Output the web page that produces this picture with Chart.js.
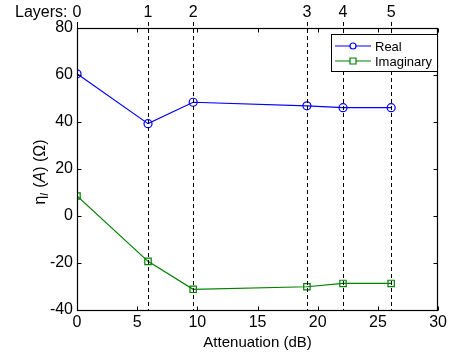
<!DOCTYPE html>
<html><head><meta charset="utf-8">
<script src="https://cdn.jsdelivr.net/npm/chart.js@4"></script>
<style>html,body{margin:0;padding:0;background:#fff}#wrap{width:450px;height:357px}</style>
</head><body><div id="wrap"><canvas id="c" width="450" height="357"></canvas></div>
<script>
const attenuation = [0, 5.9, 9.65, 19.1, 22.1, 26.1];
const layerLabels = ['0', '1', '2', '3', '4', '5'];
const realValues = [60.5, 39.3, 48.4, 46.9, 46.1, 46.1];
const imagValues = [8.5, -19.3, -31.2, -30.1, -28.7, -28.7];
const xTicks = [0, 5, 10, 15, 20, 25, 30];
const yTicks = [-40, -20, 0, 20, 40, 60, 80];

const FONT = 'Liberation Sans, Arial, Helvetica, sans-serif';
const BLUE = '#0000ff', GREEN = '#008000';

const frame = {
  id: 'frame',
  afterDraw(chart) {
    const ctx = chart.ctx, a = chart.chartArea;
    const x = chart.scales.x, y = chart.scales.y;
    ctx.save();
    ctx.strokeStyle = '#000'; ctx.lineWidth = 1;
    ctx.setLineDash([4, 3]);
    attenuation.forEach((v, i) => {
      if (i === 0) return;
      const px = Math.round(x.getPixelForValue(v)) + 0.5;
      ctx.beginPath(); ctx.moveTo(px, a.top - 6); ctx.lineTo(px, a.bottom); ctx.stroke();
    });
    ctx.setLineDash([]);
    const p0 = Math.round(x.getPixelForValue(attenuation[0])) + 0.5;
    ctx.beginPath(); ctx.moveTo(p0, a.top - 6); ctx.lineTo(p0, a.top); ctx.stroke();
    const L = Math.round(a.left) + 0.5, R = Math.round(a.right) - 0.5, T = Math.round(a.top) + 0.5, B = Math.round(a.bottom) + 0.5;
    ctx.lineWidth = 1.2;
    ctx.strokeRect(L, T, R - L, B - T);
    ctx.lineWidth = 1;
    xTicks.forEach(v => {
      const px = Math.round(x.getPixelForValue(v)) + 0.5;
      ctx.beginPath(); ctx.moveTo(px, B); ctx.lineTo(px, B - 4); ctx.stroke();
      ctx.beginPath(); ctx.moveTo(px, T); ctx.lineTo(px, T + 4); ctx.stroke();
    });
    yTicks.forEach(v => {
      const py = Math.round(y.getPixelForValue(v)) + 0.5;
      ctx.beginPath(); ctx.moveTo(L, py); ctx.lineTo(L + 4, py); ctx.stroke();
      ctx.beginPath(); ctx.moveTo(R, py); ctx.lineTo(R - 4, py); ctx.stroke();
    });
    ctx.fillStyle = '#000';
    ctx.font = '16px ' + FONT;
    ctx.textAlign = 'right'; ctx.textBaseline = 'alphabetic';
    ctx.fillText('Layers:', p0 - 10, 17);
    ctx.translate(41, (a.top + a.bottom) / 2 + 3);
    ctx.rotate(-Math.PI / 2);
    ctx.textBaseline = 'middle'; ctx.textAlign = 'left';
    const parts = [
      {t: '\u03b7', f: '16px ' + FONT, dy: 0},
      {t: 'l', f: 'italic 11px ' + FONT, dy: 4},
      {t: ' (', f: '16px ' + FONT, dy: 0},
      {t: 'A', f: 'italic 16px ' + FONT, dy: 0},
      {t: ') (\u03a9)', f: '16px ' + FONT, dy: 0}
    ];
    let w = 0;
    parts.forEach(p => { ctx.font = p.f; w += ctx.measureText(p.t).width + (p.t === 'l' ? 1 : 0); });
    let cx = -w / 2;
    parts.forEach(p => { ctx.font = p.f; ctx.fillText(p.t, cx, p.dy); cx += ctx.measureText(p.t).width + (p.t === 'l' ? 1 : 0); });
    ctx.restore();
    ctx.save();
    const bx = 331.5, by = 34.5, bw = 106, bh = 37;
    ctx.fillStyle = '#fff'; ctx.fillRect(bx, by, bw, bh);
    ctx.strokeStyle = '#000'; ctx.lineWidth = 1; ctx.strokeRect(bx, by, bw, bh);
    const rows = [
      {label: chart.data.datasets[0].label, color: BLUE, style: 'circle', y: 46},
      {label: chart.data.datasets[1].label, color: GREEN, style: 'rect', y: 61}
    ];
    rows.forEach(r => {
      ctx.strokeStyle = r.color; ctx.lineWidth = 1.2;
      ctx.beginPath(); ctx.moveTo(335, r.y); ctx.lineTo(371, r.y); ctx.stroke();
      ctx.beginPath();
      if (r.style === 'circle') { ctx.arc(353, r.y, 3, 0, Math.PI * 2); }
      else { ctx.rect(350, r.y - 3, 6, 6); }
      ctx.fillStyle = '#fff'; ctx.fill(); ctx.stroke();
      ctx.fillStyle = '#000'; ctx.font = '13px ' + FONT;
      ctx.textAlign = 'left'; ctx.textBaseline = 'middle';
      ctx.fillText(r.label, 375, r.y + 1);
    });
    ctx.restore();
  }
};

new Chart(document.getElementById('c'), {
  type: 'line',
  data: {
    datasets: [
      {label: 'Real', data: attenuation.map((v, i) => ({x: v, y: realValues[i]})),
       borderColor: BLUE, backgroundColor: 'rgba(0,0,0,0)', borderWidth: 1.2,
       pointStyle: 'circle', pointRadius: 4, pointBorderColor: BLUE, pointBackgroundColor: 'rgba(0,0,0,0)', pointBorderWidth: 1.2, tension: 0},
      {label: 'Imaginary', data: attenuation.map((v, i) => ({x: v, y: imagValues[i]})),
       borderColor: GREEN, backgroundColor: 'rgba(0,0,0,0)', borderWidth: 1.2,
       pointStyle: 'rect', pointRadius: 4.5, pointBorderColor: GREEN, pointBackgroundColor: 'rgba(0,0,0,0)', pointBorderWidth: 1.2, tension: 0}
    ]
  },
  options: {
    responsive: false, animation: false,
    layout: {padding: {left: 0, right: 5, top: 0, bottom: 0}},
    plugins: {legend: {display: false}, tooltip: {enabled: false}},
    scales: {
      x: {
        type: 'linear', position: 'bottom', min: 0, max: 30,
        afterBuildTicks: s => { s.ticks = xTicks.map(v => ({value: v})); },
        grid: {display: false, drawTicks: false}, border: {display: false},
        ticks: {font: {family: FONT, size: 16}, color: '#000', padding: 3, maxRotation: 0},
        title: {display: true, text: 'Attenuation (dB)', font: {family: FONT, size: 15}, color: '#000', padding: {top: 0, bottom: 5}},
        afterFit: s => { s.height = 47; }
      },
      xTop: {
        type: 'linear', position: 'top', min: 0, max: 30,
        afterBuildTicks: s => { s.ticks = attenuation.map(v => ({value: v})); },
        grid: {display: false, drawTicks: false}, border: {display: false},
        ticks: {font: {family: FONT, size: 16}, color: '#000', padding: 6, maxRotation: 0, autoSkip: false,
                callback: (v, i) => layerLabels[i]},
        afterFit: s => { s.height = 28; }
      },
      y: {
        type: 'linear', min: -40, max: 80,
        afterBuildTicks: s => { s.ticks = yTicks.map(v => ({value: v})); },
        grid: {display: false, drawTicks: false}, border: {display: false},
        ticks: {font: {family: FONT, size: 16}, color: '#000', padding: 4},
        afterFit: s => { s.width = 77; }
      }
    }
  },
  plugins: [frame]
});
</script></body></html>
